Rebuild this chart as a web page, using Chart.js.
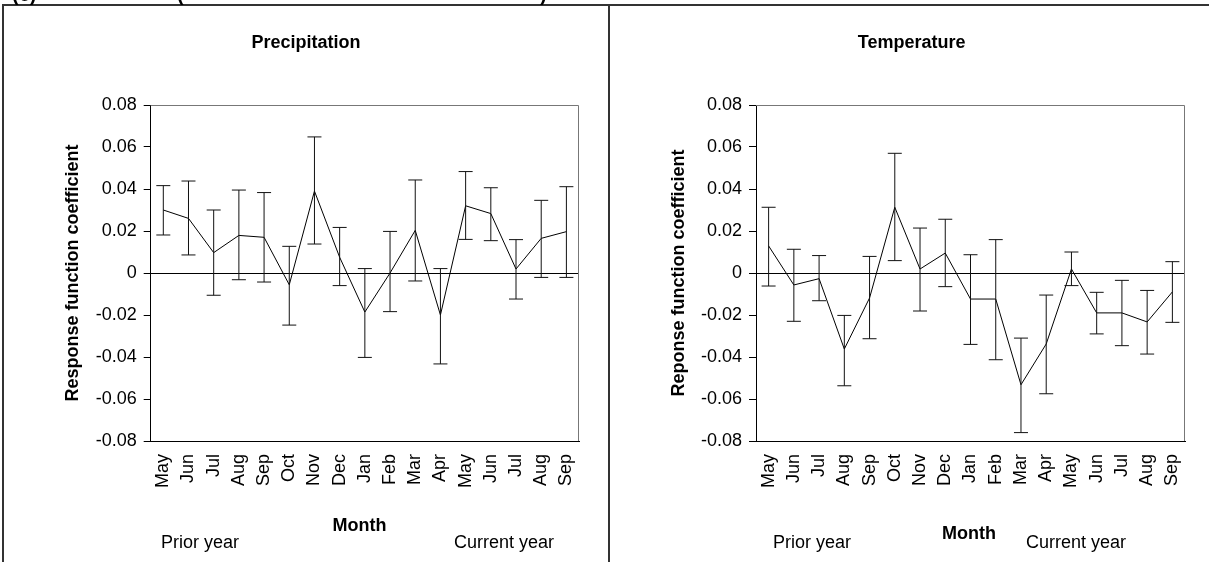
<!DOCTYPE html>
<html>
<head>
<meta charset="utf-8">
<script src="https://cdn.jsdelivr.net/npm/chart.js@4.4.1/dist/chart.umd.min.js"></script>
<style>
  body { margin: 0; background: #fff; }
  #wrap { position: relative; width: 1209px; height: 562px; overflow: hidden; background: #fff; }
  .frame { position: absolute; left: 2px; top: 4px; width: 1300px; height: 600px; border-left: 2px solid #333; border-top: 2px solid #333; }
  .divider { position: absolute; left: 608px; top: 4px; width: 2px; height: 600px; background: #333; }
  canvas { position: absolute; top: 0; }
</style>
</head>
<body>
<div id="wrap">
  <div class="frame"></div>
  <div class="divider"></div>
  <canvas id="precipChart" width="606" height="562" style="left:3px"></canvas>
  <canvas id="tempChart" width="606" height="562" style="left:609px"></canvas>
</div>
<script>
// months: prior year May .. current year Sep
var months = ['May', 'Jun', 'Jul', 'Aug', 'Sep', 'Oct', 'Nov', 'Dec', 'Jan', 'Feb', 'Mar', 'Apr', 'May', 'Jun', 'Jul', 'Aug', 'Sep'];

// precipitation response coefficients and 95% limits
var precipCoef = [0.030, 0.026, 0.0097, 0.0179, 0.017, -0.0056, 0.039, 0.0075, -0.0186, 0.0, 0.0203, -0.020, 0.032, 0.0283, 0.0019, 0.0165, 0.0197];
var precipHigh = [0.0416, 0.0438, 0.030, 0.0395, 0.0383, 0.0127, 0.0648, 0.0217, 0.0021, 0.0198, 0.0443, 0.0021, 0.0483, 0.0406, 0.0159, 0.0346, 0.0411];
var precipLow  = [0.0181, 0.0086, -0.0106, -0.0032, -0.0043, -0.0248, 0.0138, -0.006, -0.0402, -0.0184, -0.0038, -0.0433, 0.016, 0.0154, -0.0124, -0.0021, -0.0021];

// temperature response coefficients and 95% limits
var tempCoef = [0.0129, -0.0057, -0.0027, -0.0362, -0.0119, 0.0313, 0.0019, 0.0095, -0.0124, -0.0124, -0.0532, -0.0338, 0.0019, -0.019, -0.019, -0.0233, -0.009];
var tempHigh = [0.0313, 0.0113, 0.0083, -0.0202, 0.0079, 0.057, 0.0214, 0.0256, 0.0087, 0.0159, -0.031, -0.0105, 0.010, -0.0092, -0.0035, -0.0083, 0.0054];
var tempLow  = [-0.0062, -0.023, -0.0132, -0.0537, -0.0313, 0.0059, -0.0181, -0.0065, -0.034, -0.0413, -0.076, -0.0575, -0.006, -0.029, -0.0346, -0.0386, -0.0235];

var yMin = -0.08, yMax = 0.08, yStep = 0.02;

var FONT = "'Liberation Sans', Arial, sans-serif";
Chart.defaults.font.family = FONT;
Chart.defaults.font.size = 18;
Chart.defaults.color = '#000';

// error bars + plot frame
var errorBars = {
  id: 'errorBars',
  afterDatasetsDraw: function(chart, args, opts) {
    var ctx = chart.ctx, area = chart.chartArea;
    var x = chart.scales.x, y = chart.scales.y;
    ctx.save();
    ctx.strokeStyle = '#777';
    ctx.lineWidth = 1;
    ctx.beginPath();
    ctx.moveTo(area.left, area.top + 0.5);
    ctx.lineTo(area.right - 0.5, area.top + 0.5);
    ctx.lineTo(area.right - 0.5, area.bottom);
    ctx.stroke();

    ctx.strokeStyle = '#111';
    opts.high.forEach(function(hi, i) {
      var px = x.getPixelForValue(i);
      var top = y.getPixelForValue(hi);
      var bot = y.getPixelForValue(opts.low[i]);
      ctx.beginPath();
      ctx.moveTo(px, top); ctx.lineTo(px, bot);
      ctx.moveTo(px - opts.cap, top); ctx.lineTo(px + opts.cap, top);
      ctx.moveTo(px - opts.cap, bot); ctx.lineTo(px + opts.cap, bot);
      ctx.stroke();
    });
    ctx.restore();
  }
};

// panel texts: title, Month, prior/current year, caption pieces
var panelText = {
  id: 'panelText',
  afterDraw: function(chart, args, opts) {
    var ctx = chart.ctx;
    ctx.save();
    ctx.fillStyle = '#000';
    opts.items.forEach(function(t) {
      ctx.font = (t.bold ? 'bold ' : '') + (t.size || 18) + 'px ' + FONT;
      ctx.textAlign = t.align || 'left';
      ctx.textBaseline = t.baseline || 'middle';
      ctx.fillText(t.text, t.x, t.y);
    });
    ctx.restore();
  }
};

function makePanel(canvasId, coef, high, low, yTitle, items, axisWidth) {
  var ctx = document.getElementById(canvasId).getContext('2d');
  return new Chart(ctx, {
    type: 'line',
    data: {
      labels: months,
      datasets: [{
        data: coef,
        borderColor: '#000',
        borderWidth: 1,
        pointRadius: 0,
        tension: 0,
        fill: false
      }]
    },
    options: {
      responsive: false,
      animation: false,
      layout: { padding: { left: 0, top: 105, right: 30, bottom: 0 } },
      scales: {
        x: {
          offset: true,
          grid: { display: false, drawTicks: false },
          border: { display: true, color: '#000' },
          ticks: { autoSkip: false, minRotation: 90, maxRotation: 90, padding: 13 },
          afterFit: function(s) { s.height = 121; }
        },
        y: {
          min: yMin,
          max: yMax,
          grid: {
            drawOnChartArea: true,
            color: function(c) { return c.tick && Math.abs(c.tick.value) < 1e-9 ? '#000' : 'rgba(0,0,0,0)'; },
            tickColor: '#000',
            tickLength: 7
          },
          border: { display: true, color: '#000' },
          ticks: {
            stepSize: yStep,
            padding: 7,
            callback: function(v) { return Math.abs(v) < 1e-9 ? '0' : v.toFixed(2); }
          },
          title: {
            display: true,
            text: yTitle,
            font: { weight: 'bold', size: 18 },
            padding: { top: 59, bottom: 0 }
          },
          afterFit: function(s) { s.width = axisWidth; }
        }
      },
      plugins: {
        legend: { display: false },
        tooltip: { enabled: false },
        errorBars: { high: high, low: low, cap: 7 },
        panelText: { items: items }
      }
    },
    plugins: [errorBars, panelText]
  });
}

makePanel('precipChart', precipCoef, precipHigh, precipLow, 'Response function coefficient', [
  { text: 'Precipitation', x: 303, y: 43, bold: true, align: 'center' },
  { text: 'Month', x: 356.5, y: 526, bold: true, align: 'center' },
  { text: 'Prior year', x: 158, y: 543 },
  { text: 'Current year', x: 451, y: 543 },
  { text: '(c)', x: 9, y: 0.5, bold: true, size: 20, baseline: 'alphabetic' },
  { text: '(', x: 174, y: 0.5, bold: true, size: 20, baseline: 'alphabetic' },
  { text: ')', x: 537, y: 0.5, bold: true, size: 20, baseline: 'alphabetic' }
], 147.7);

makePanel('tempChart', tempCoef, tempHigh, tempLow, 'Reponse function coefficient', [
  { text: 'Temperature', x: 302.6, y: 43, bold: true, align: 'center' },
  { text: 'Month', x: 360, y: 534, bold: true, align: 'center' },
  { text: 'Prior year', x: 164, y: 543 },
  { text: 'Current year', x: 417, y: 543 }
], 147);
</script>
</body>
</html>
